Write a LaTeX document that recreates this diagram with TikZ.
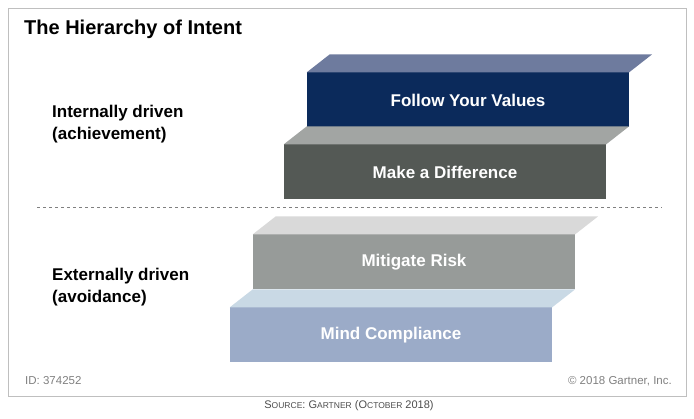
\documentclass[tikz,border=0pt]{standalone}
\usepackage{fontspec}
\setmainfont{Liberation Sans}
\tikzset{
step block/.style={
  rectangle,
  draw=none,
  minimum width=322pt,
  minimum height=55pt,
  text=white,
  font=\bfseries\fontsize{17}{20}\selectfont,
  inner sep=0pt,
},
sidelabel/.style={
  rectangle,
  draw=none,
  anchor=west,
  align=left,
  font=\bfseries\fontsize{17}{22}\selectfont,
  inner sep=0pt,
},
footlabel/.style={
  draw=none,
  text=gray,
  font=\fontsize{11.5}{13}\selectfont,
  inner sep=0pt,
}
}
\definecolor{valfront}{HTML}{0B2A5B}
\definecolor{valtop}{HTML}{6E7B9E}
\definecolor{difffront}{HTML}{545955}
\definecolor{difftop}{HTML}{A2A5A3}
\definecolor{riskfront}{HTML}{979B99}
\definecolor{risktop}{HTML}{D9D9D9}
\definecolor{compfront}{HTML}{9BABC8}
\definecolor{comptop}{HTML}{C9D9E5}
\newcommand{\topface}[2]{% node, colour
  \fill[#2] (#1.north west) -- ++(23pt,18pt) -- ([xshift=23pt,yshift=18pt]#1.north east) -- (#1.north east) -- cycle;}
\newcommand{\fakesc}[2]{#1{\fontsize{8.5}{10}\selectfont #2}}
\begin{document}
\begin{tikzpicture}[x=1pt, y=-1pt]
\useasboundingbox (0,0) rectangle (694,419);
\draw[gray!50] (8,8) rectangle (686,396);
%nodes
\node[anchor=west, font=\bfseries\fontsize{20}{24}\selectfont, inner sep=0pt](title) at (24,29){The Hierarchy of Intent};

\node[step block, fill=valfront](values) at (468,100){Follow Your Values};
\node[step block, fill=difffront](difference) at (445,172){Make a Difference};
\node[step block, fill=riskfront](risk) at (414,262){Mitigate Risk};
\node[step block, fill=compfront](compliance) at (391,335){Mind Compliance};

\topface{values}{valtop}
\topface{difference}{difftop}
\topface{risk}{risktop}
\topface{compliance}{comptop}

\node[sidelabel](internal) at (52,124){Internally driven\\(achievement)};
\node[sidelabel](external) at (52,287){Externally driven\\(avoidance)};

\coordinate (dashl) at (37,207);
\coordinate (dashr) at (662,207);
\draw[dashed, gray] (dashl) -- (dashr);

\node[footlabel, anchor=west](id) at (25,381){ID: 374252};
\node[footlabel, anchor=east](copy) at (672,381){\textcopyright{} 2018 Gartner, Inc.};
\node[footlabel, text=black!70, font=\fontsize{11}{12}\selectfont](source) at (349,406){\fakesc{S}{OURCE}: \fakesc{G}{ARTNER} (\fakesc{O}{CTOBER} 2018)};
\end{tikzpicture}
\end{document}
